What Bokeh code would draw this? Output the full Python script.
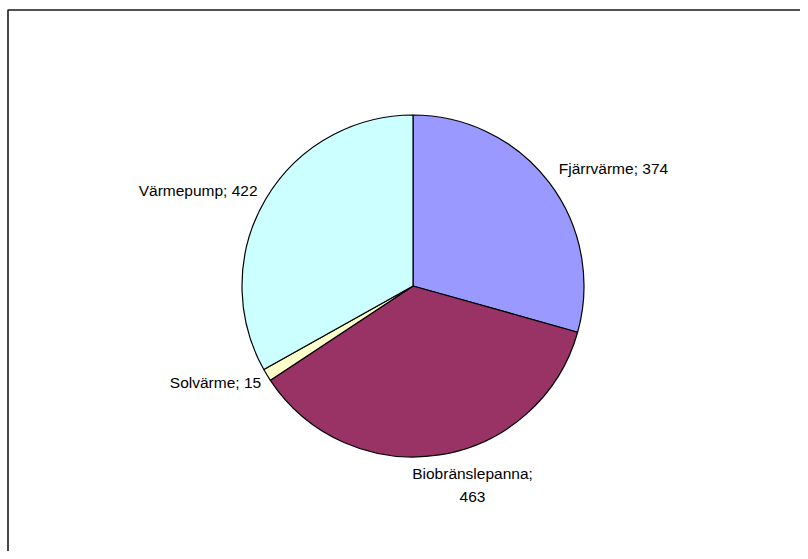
import math
from bokeh.plotting import figure
from bokeh.models import Range1d, ColumnDataSource
from bokeh.core.properties import value
from bokeh.embed import file_html
from bokeh.resources import INLINE

# ---- data ----
categories = ["Fjärrvärme", "Biobränslepanna", "Solvärme", "Värmepump"]
values = [374, 463, 15, 422]
colors = ["#9999FF", "#993366", "#FFFFCC", "#CCFFFF"]

W, H = 800, 551
p = figure(width=W, height=H, output_backend="svg", toolbar_location=None,
           x_range=Range1d(0, W), y_range=Range1d(0, H), min_border=0)
p.axis.visible = False
p.grid.visible = False
p.outline_line_color = None
p.background_fill_color = "white"

# frame border (open to right/bottom, cropped)
p.line(x=[7.5, 7.5, W], y=[0, H - 9.5, H - 9.5], line_color="#1a1a1a", line_width=1.6)

cx, cy, R = 412.5, H - 285.5, 171
total = float(sum(values))
starts, ends, mids = [], [], []
cum = 0
for v in values:
    a0 = math.pi / 2 - 2 * math.pi * cum / total
    cum += v
    a1 = math.pi / 2 - 2 * math.pi * cum / total
    starts.append(a1)
    ends.append(a0)
    mids.append((a0 + a1) / 2)

src = ColumnDataSource(dict(start=starts, end=ends, color=colors, cat=categories, val=values))
p.wedge(x=cx, y=cy, radius=R, start_angle="start", end_angle="end", fill_color="color",
        line_color="black", line_width=1.2, source=src)

# labels
nudges = [(4, 10), (32, -3), (0, -4), (-2, 6)]
lx, ly, txt, align, base = [], [], [], [], []
for cat, v, m, (ndx, ndy) in zip(categories, values, mids, nudges):
    dx, dy = math.cos(m), math.sin(m)
    k = R * 1.04
    x = cx + dx * k + ndx
    y = cy + dy * k + ndy
    if abs(dx) < 0.3:
        a = "center"
        b = "top" if dy < 0 else "bottom"
        t = f"{cat};\n{v}"
    else:
        a = "left" if dx > 0 else "right"
        b = "middle"
        t = f"{cat}; {v}"
    lx.append(x); ly.append(y); txt.append(t); align.append(a); base.append(b)

lsrc = ColumnDataSource(dict(x=lx, y=ly, t=txt, a=align, b=base))
p.text(x="x", y="y", text="t", text_align="a", text_baseline="b", source=lsrc,
       text_font=value("Liberation Sans"), text_font_size="15.5px", text_color="black",
       text_line_height=1.35)

open("out.html", "w").write(file_html(p, INLINE))
